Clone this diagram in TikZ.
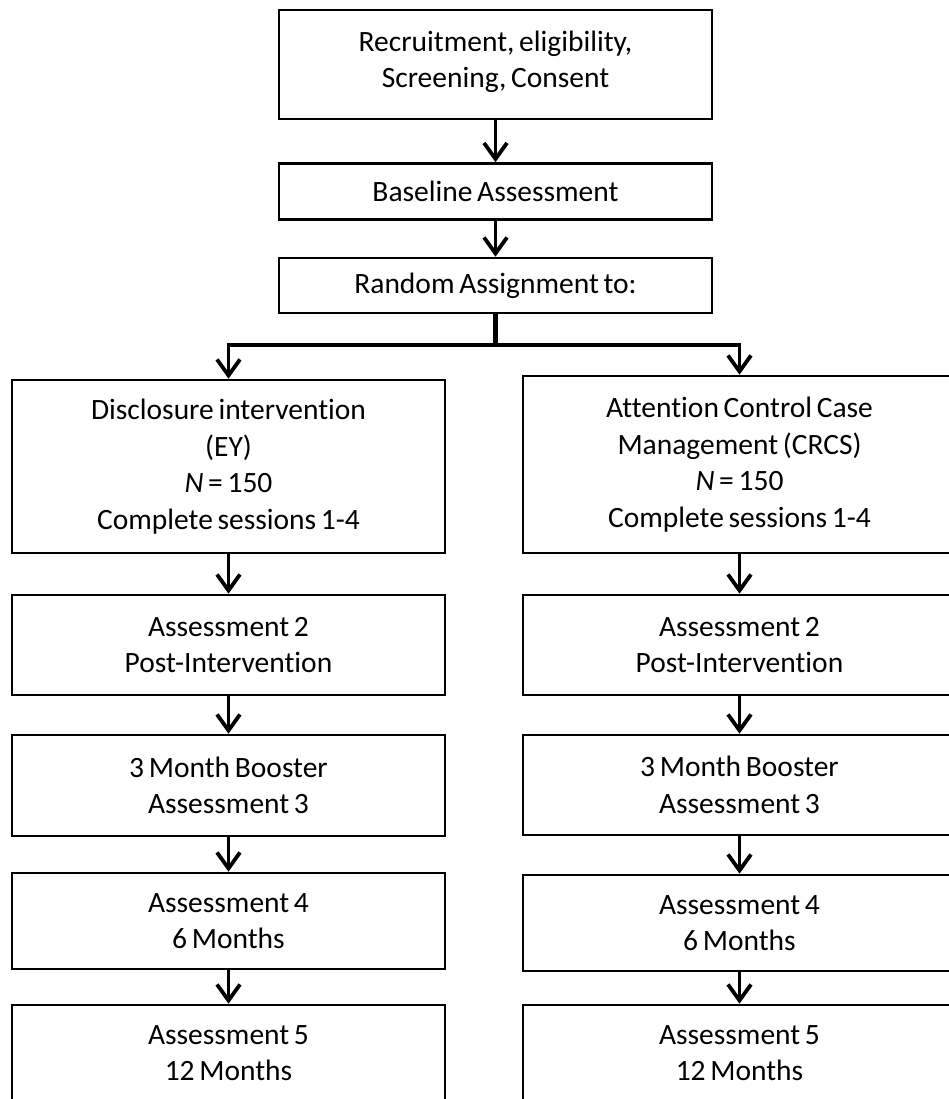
\documentclass[tikz,border=0pt]{standalone}
\usepackage{fontspec}
\setmainfont{Carlito}[Ligatures=CommonOff,WordSpace=0.7]
\usetikzlibrary{arrows.meta}
\begin{document}
\begin{tikzpicture}[x=1pt,y=-1pt,
  box/.style={draw,line width=2.6pt,minimum width=433pt,inner sep=0pt,align=center,
    font=\fontsize{29.5}{36.5}\selectfont},
  arr/.style={line width=3.8pt,-{Straight Barb[length=16pt,width=23pt,line width=3.8pt]}},
  stem/.style={line width=5.5pt},
  ]
\useasboundingbox (0,0) rectangle (949,1099);
\clip (0,0) rectangle (949,1099);
% top column
\node[box,minimum height=109pt] (t1) at (495.5,64.5) {Recruitment, eligibility,\\Screening, Consent\\[-26pt]\mbox{}};
\node[box,minimum height=56pt] (t2) at (495.5,191.5) {Baseline Assessment};
\node[box,minimum height=55pt] (t3) at (495.5,285.5) {Random Assignment to:};
% left column
\node[box,minimum height=173pt] (l1) at (228.5,466.5) {Disclosure intervention\\(EY)\\{\itshape N} = 150\\Complete sessions 1-4};
\node[box,minimum height=100pt] (l2) at (228.5,645) {Assessment 2\\Post-Intervention};
\node[box,minimum height=101pt] (l3) at (228.5,785.5) {3 Month Booster\\Assessment 3};
\node[box,minimum height=96pt] (l4) at (228.5,921) {Assessment 4\\6 Months};
\node[box,minimum height=96pt] (l5) at (228.5,1053) {Assessment 5\\12 Months};
% right column
\node[box,minimum height=177pt] (r1) at (739.5,464.5) {Attention Control Case\\Management (CRCS)\\{\itshape N} = 150\\Complete sessions 1-4};
\node[box,minimum height=100pt] (r2) at (739.5,645) {Assessment 2\\Post-Intervention};
\node[box,minimum height=100pt] (r3) at (739.5,785) {3 Month Booster\\Assessment 3};
\node[box,minimum height=96pt] (r4) at (739.5,923) {Assessment 4\\6 Months};
\node[box,minimum height=96pt] (r5) at (739.5,1053) {Assessment 5\\12 Months};
% connectors
\draw[arr] (t1) -- (t2);
\draw[arr] (t2) -- (t3);
\draw[stem] (t3.south) -- ++(0,31) coordinate (j);
\draw[arr] ([xshift=2pt]j) -| (l1.north);
\draw[arr] ([xshift=-2pt]j) -| (r1.north);
\draw[arr] (l1) -- (l2);
\draw[arr] (l2) -- (l3);
\draw[arr] (l3) -- (l4);
\draw[arr] (l4) -- (l5);
\draw[arr] (r1) -- (r2);
\draw[arr] (r2) -- (r3);
\draw[arr] (r3) -- (r4);
\draw[arr] (r4) -- (r5);
\end{tikzpicture}
\end{document}
